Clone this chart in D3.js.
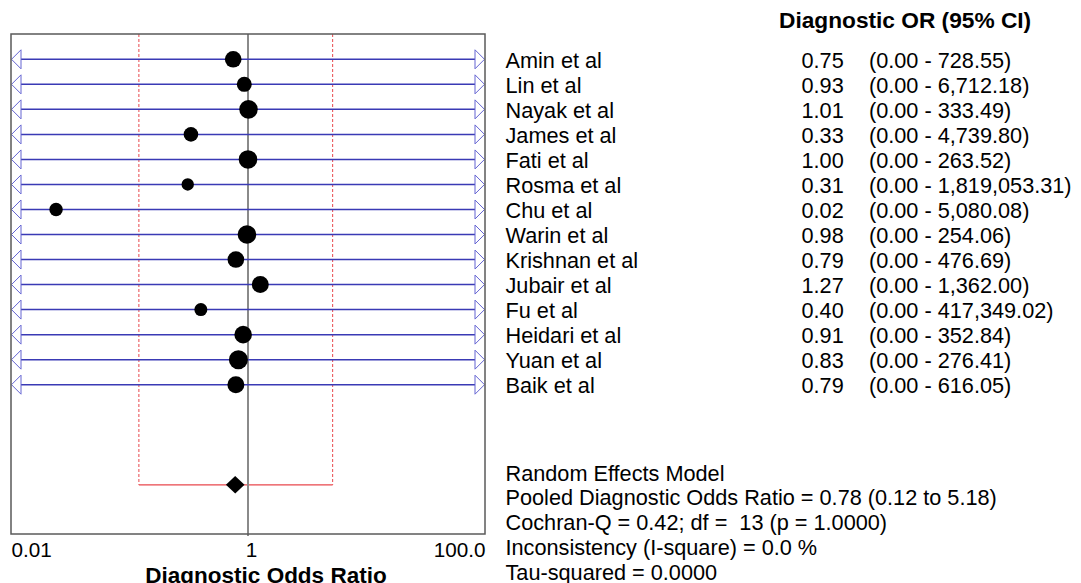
<!DOCTYPE html>
<html>
<head>
<meta charset="utf-8">
<script src="https://cdn.jsdelivr.net/npm/d3@7"></script>
<style>
body{margin:0;background:#fff;}
text{font-family:"Liberation Sans",Arial,sans-serif;fill:#000;white-space:pre;}
</style>
</head>
<body>
<script>
//DATA
var studies=["Amin et al","Lin et al","Nayak et al","James et al","Fati et al","Rosma et al","Chu et al",
"Warin et al","Krishnan et al","Jubair et al","Fu et al","Heidari et al","Yuan et al","Baik et al"];
var ors=[0.75,0.93,1.01,0.33,1.00,0.31,0.024,0.98,0.79,1.27,0.40,0.91,0.83,0.79];
var lower=[0,0,0,0,0,0,0,0,0,0,0,0,0,0];
var upper=[728.55,6712.18,333.49,4739.80,263.52,1819053.31,5080.08,254.06,476.69,1362.00,417349.02,352.84,276.41,616.05];
var weights=[69,56,86,53,86,38,45,86,69,72,42,77,90,72]; //relative study weight (dot area)
var pooled={or:0.78,lo:0.12,hi:5.18};
var ticks=[0.01,1,100];
var tickLabels=["0.01","1","100.0"];
var stats=["Random Effects Model",
"Pooled Diagnostic Odds Ratio = 0.78 (0.12 to 5.18)",
"Cochran-Q = 0.42; df =  13 (p = 1.0000)",
"Inconsistency (I-square) = 0.0 %",
"Tau-squared = 0.0000"];

//SVG VARIABLES
var width=1081;
var height=583;
var plotLeft=11, plotRight=485; //box edges
var plotTop=34, plotBottom=534;
var svg=d3.select("body").append("svg")
	.attr("width",width)
	.attr("height",height);

//SCALES
var x=d3.scaleLog().domain([0.01,100]).range([plotLeft,plotRight]);
var y=d3.scaleLinear().domain([0,13]).range([59.3,384.7]);
var r=d3.scaleSqrt().domain([0,90]).range([0,9.5]);
var fmt=d3.format(".2f");
var fmtCI=d3.format(",.2f");
var pooledRow=17;

//RED POOLED CI BOX (dashed verticals + solid bottom)
[pooled.lo,pooled.hi].forEach(function(v){
	svg.append("line")
		.attr("x1",x(v)).attr("x2",x(v))
		.attr("y1",plotTop).attr("y2",y(pooledRow))
		.attr("stroke","#e8474c").attr("stroke-width",1)
		.attr("stroke-dasharray","3,2");
});
svg.append("line")
	.attr("x1",x(pooled.lo)).attr("x2",x(pooled.hi))
	.attr("y1",y(pooledRow)).attr("y2",y(pooledRow))
	.attr("stroke","#e8474c").attr("stroke-width",1.2);

//LINE OF NO EFFECT
svg.append("line")
	.attr("x1",x(1)).attr("x2",x(1))
	.attr("y1",plotTop).attr("y2",plotBottom+2)
	.attr("stroke","#8a8a8a").attr("stroke-width",2);

//CI LINES WITH ARROWS
var rows=svg.append("g").attr("id","rows");
studies.forEach(function(s,i){
	var yy=y(i);
	var loOut=lower[i]<x.domain()[0], hiOut=upper[i]>x.domain()[1];
	var x1=loOut?plotLeft+10:x(lower[i]);
	var x2=hiOut?plotRight-10:x(upper[i]);
	rows.append("line")
		.attr("x1",x1).attr("x2",x2).attr("y1",yy).attr("y2",yy)
		.attr("stroke","#3a3ab5").attr("stroke-width",1.5);
	if(loOut){
		rows.append("path")
			.attr("d","M"+(plotLeft+10)+","+(yy-9.5)+"L"+(plotLeft+0.5)+","+yy+"L"+(plotLeft+10)+","+(yy+9.5)+"Z")
			.attr("fill","none").attr("stroke","#6464d2").attr("stroke-width",1);
	}
	if(hiOut){
		rows.append("path")
			.attr("d","M"+(plotRight-10)+","+(yy-9.5)+"L"+(plotRight-0.5)+","+yy+"L"+(plotRight-10)+","+(yy+9.5)+"Z")
			.attr("fill","none").attr("stroke","#6464d2").attr("stroke-width",1);
	}
});

//POINT ESTIMATES
svg.append("g").selectAll("circle")
	.data(ors)
	.enter()
	.append("circle")
	.attr("cx",function(d){return x(d);})
	.attr("cy",function(d,i){return y(i);})
	.attr("r",function(d,i){return r(weights[i]);})
	.attr("fill","#000");

//POOLED DIAMOND
var dx=x(pooled.or), dy=y(pooledRow);
svg.append("path")
	.attr("d","M"+(dx-9.3)+","+dy+"L"+dx+","+(dy-8.8)+"L"+(dx+9.3)+","+dy+"L"+dx+","+(dy+8.8)+"Z")
	.attr("fill","#000");

//BOX
svg.append("rect")
	.attr("x",plotLeft).attr("y",plotTop)
	.attr("width",plotRight-plotLeft).attr("height",plotBottom-plotTop)
	.attr("fill","none").attr("stroke","#5a5a5a").attr("stroke-width",1.5);

//X AXIS
var axis=svg.append("g")
	.attr("transform","translate(0,"+plotBottom+")")
	.call(d3.axisBottom(x).tickValues(ticks).tickSize(0).tickPadding(8)
		.tickFormat(function(d,i){return tickLabels[i];}));
axis.select(".domain").remove();
axis.attr("font-family",null).attr("font-size",null);
axis.selectAll("text")
	.style("font-size","20.7px")
	.attr("dy",null)
	.attr("y",22.7)
	.attr("text-anchor",function(d,i){return i==0?"start":(i==ticks.length-1?"end":"middle");})
	.attr("dx",function(d,i){return i==1?"3":"0";});

svg.append("text")
	.attr("x",266).attr("y",582.5)
	.attr("text-anchor","middle")
	.style("font-size","22.5px").style("font-weight","bold")
	.text("Diagnostic Odds Ratio");

//RIGHT COLUMN TEXT
svg.append("text")
	.attr("x",779).attr("y",28)
	.style("font-size","22.7px").style("font-weight","bold")
	.text("Diagnostic OR (95% CI)");

var labels=svg.append("g").style("font-size","21.7px");
labels.selectAll(".name")
	.data(studies).enter().append("text")
	.attr("x",505.5).attr("y",function(d,i){return y(i)+8.5;})
	.text(function(d){return d;});
labels.selectAll(".val")
	.data(ors).enter().append("text")
	.attr("x",801.5).attr("y",function(d,i){return y(i)+8.5;})
	.text(function(d){return fmt(d);});
labels.selectAll(".ci")
	.data(upper).enter().append("text")
	.attr("x",869).attr("y",function(d,i){return y(i)+8.5;})
	.text(function(d,i){return "("+fmtCI(lower[i])+" - "+fmtCI(d)+")";});

//STATS
labels.selectAll(".stat")
	.data(stats).enter().append("text")
	.attr("x",505.5).attr("y",function(d,i){return 480.5+i*24.8;})
	.text(function(d){return d;});
</script>
</body>
</html>
